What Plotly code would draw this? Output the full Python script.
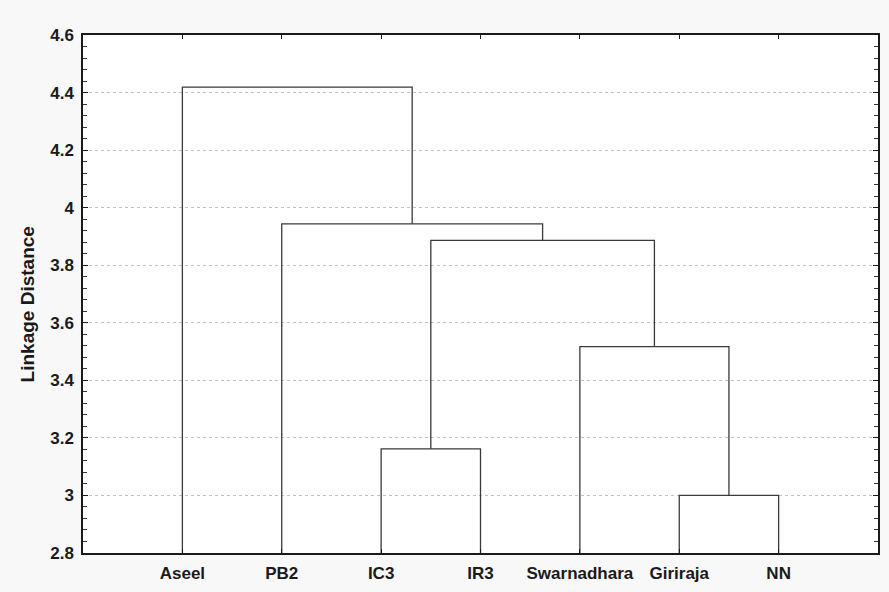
import plotly.graph_objects as go

# Leaves (left-to-right order as drawn)
leaves = ["Aseel", "PB2", "IC3", "IR3", "Swarnadhara", "Giriraja", "NN"]
# Merge steps: cluster ids 0..6 are leaves, merges create ids 7, 8, ...
merge_a = [5, 2, 4, 8, 1, 0]
merge_b = [6, 3, 7, 9, 10, 11]
merge_height = [3.0, 3.162, 3.517, 3.886, 3.944, 4.419]

y_ticks = [2.8, 3.0, 3.2, 3.4, 3.6, 3.8, 4.0, 4.2, 4.4, 4.6]
y_ticktext = ["2.8", "3", "3.2", "3.4", "3.6", "3.8", "4", "4.2", "4.4", "4.6"]
y_min, y_max = 2.8, 4.6
y_title = "Linkage Distance"

# positions of clusters
pos_x = {i: i + 1 for i in range(len(leaves))}
pos_y = {i: y_min for i in range(len(leaves))}

fig = go.Figure()
line_style = dict(color="#3a3a3a", width=1.3)
for k, (a, b, h) in enumerate(zip(merge_a, merge_b, merge_height)):
    cid = len(leaves) + k
    xs = [pos_x[a], pos_x[a], pos_x[b], pos_x[b]]
    ys = [pos_y[a], h, h, pos_y[b]]
    fig.add_trace(go.Scatter(x=xs, y=ys, mode="lines", line=line_style,
                             hoverinfo="skip", showlegend=False))
    pos_x[cid] = (pos_x[a] + pos_x[b]) / 2
    pos_y[cid] = h

font_main = dict(family="Liberation Sans, Arial, sans-serif", size=17, color="#1a1a1a", weight="bold")

fig.add_annotation(
    text=y_title, textangle=-90, showarrow=False,
    xref="paper", yref="paper", x=-0.0704, y=0.48,
    xanchor="center", yanchor="middle",
    font=dict(family="Liberation Sans, Arial, sans-serif", size=19,
              color="#1a1a1a", weight="bold"),
)

fig.update_layout(
    width=889, height=592,
    paper_bgcolor="#f8f8f8",
    plot_bgcolor="#ffffff",
    margin=dict(l=83, r=11, t=35, b=39, autoexpand=False),
    showlegend=False,
    xaxis=dict(
        range=[0, len(leaves) + 1],
        tickvals=list(range(1, len(leaves) + 1)),
        ticktext=leaves,
        tickfont=font_main,
        showgrid=False, zeroline=False, automargin=False,
        showline=True, linecolor="#1a1a1a", linewidth=1.5, mirror="ticks",
        ticks="inside", ticklen=4, tickcolor="#1a1a1a",
        ticklabelstandoff=4,
    ),
    yaxis=dict(
        range=[y_min, y_max],
        tickvals=y_ticks,
        ticktext=y_ticktext,
        tickfont=font_main,
        showgrid=True, gridcolor="#c0c0c0", griddash="dot", gridwidth=1,
        zeroline=False, automargin=False,
        showline=True, linecolor="#1a1a1a", linewidth=1.5, mirror="ticks",
        ticks="inside", ticklen=5, tickcolor="#1a1a1a",
        minor=dict(dtick=0.04, tick0=2.8, ticks="inside", ticklen=4,
                   tickcolor="#333333", showgrid=False),
        ticklabelstandoff=4,
    ),
)

fig.write_html("out.html",
               config={"displayModeBar": False},
               post_script="document.body.style.margin='0';document.body.style.overflow='hidden';")
